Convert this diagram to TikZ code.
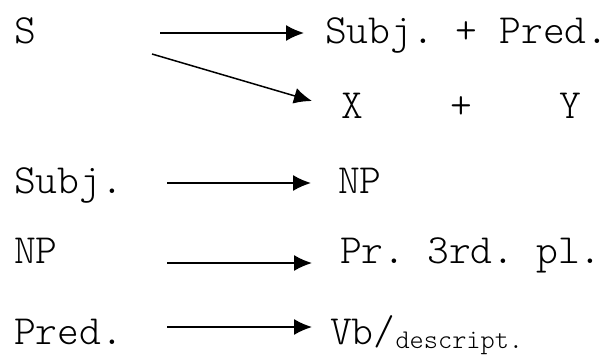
\documentclass[tikz,border=0pt]{standalone}
\usepackage{tikz}
\usetikzlibrary{arrows.meta}
\frenchspacing
\newcommand\rulefont{\ttfamily\fontseries{l}\fontsize{41.5}{42}\selectfont}
\newcommand\subfont{\ttfamily\fontseries{l}\fontsize{27}{27}\selectfont}
\tikzset{
  sym/.style={anchor=base west,inner sep=0pt,font=\rulefont},
  every edge/.style={draw,line width=1.5pt,-{Latex[length=18pt,width=16pt]}}
}

\begin{document}
\begin{tikzpicture}[x=1pt,y=-1pt]
  \useasboundingbox (0,0) rectangle (615,356);

  % left hand sides
  \node[sym] (s)     at (14,43)  {S};
  \node[sym] (subj)  at (14,193) {Subj.};
  \node[sym] (np)    at (14,263) {NP};
  \node[sym] (pred)  at (14,344) {Pred.};

  % right hand sides
  \node[sym] (sp)    at (325,43)  {Subj. + Pred.};
  \node[sym] (xy)    at (341,118) {X\ \ \ \ +\ \ \ \ Y};
  \node[sym] (npr)   at (338,193) {NP};
  \node[sym] (pron)  at (340,263) {Pr. 3rd. pl.};
  \node[sym] (vb)    at (330,344) {Vb/\raisebox{-4pt}{\subfont descript.}};

  % arrow ends
  \coordinate (t1) at (160,33);
  \coordinate (h1) at (304,33);
  \coordinate (t2) at (152,54);
  \coordinate (h2) at (312,101);
  \coordinate (t3) at (167,183);
  \coordinate (h3) at (311,183);
  \coordinate (t4) at (167,263);
  \coordinate (h4) at (312,263);
  \coordinate (t5) at (167,327);
  \coordinate (h5) at (312,327);

  \path
    (t1) edge (h1)
    (t2) edge (h2)
    (t3) edge (h3)
    (t4) edge (h4)
    (t5) edge (h5);
\end{tikzpicture}
\end{document}
